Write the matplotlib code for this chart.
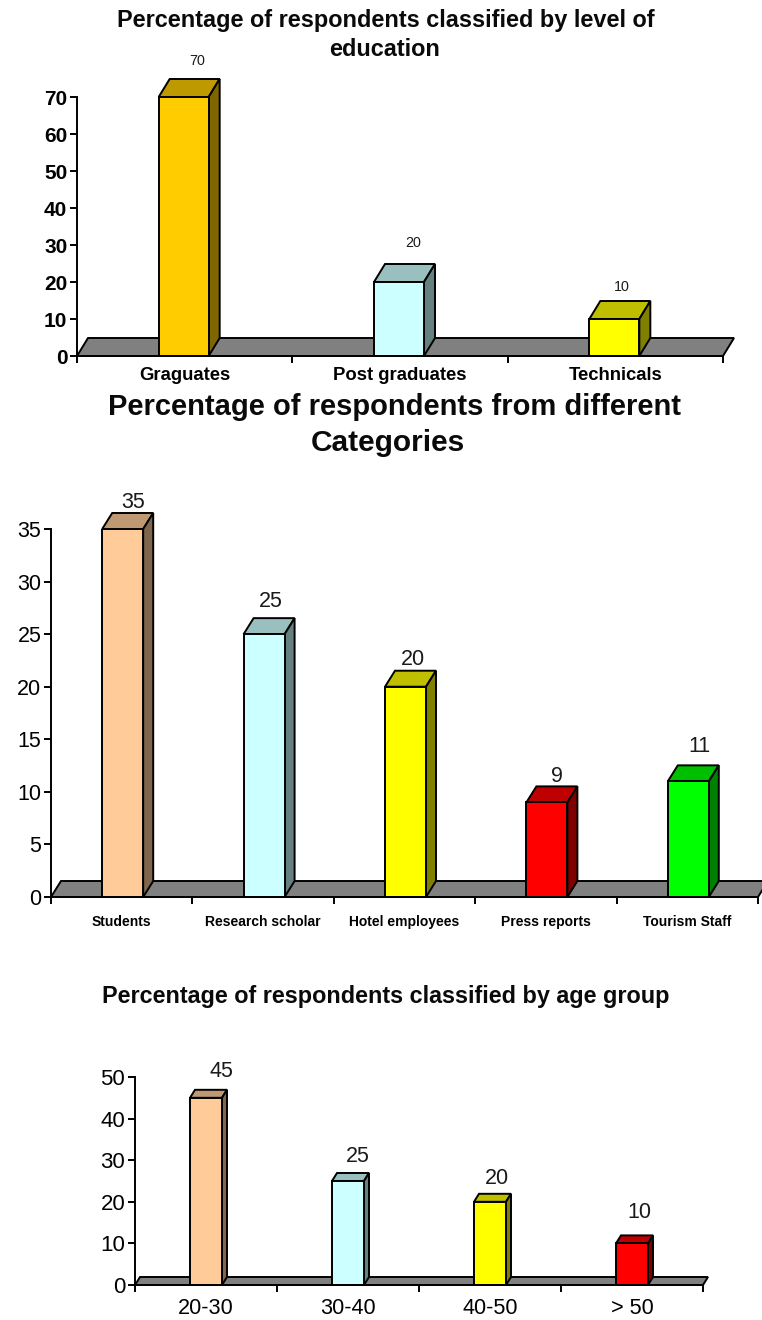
import matplotlib
matplotlib.use("Agg")
import matplotlib.pyplot as plt
from matplotlib.colors import to_rgb
from matplotlib.patches import Polygon

plt.rcParams['font.family'] = ['Liberation Sans', 'DejaVu Sans']

W, H = 762, 1320

# =============================================================================
# Data
# =============================================================================
edu_labels = ["Graguates", "Post graduates", "Technicals"]
edu_values = [70, 20, 10]
edu_colors = ["#FFCC00", "#CCFFFF", "#FFFF00"]

cat_labels = ["Students", "Research scholar", "Hotel employees", "Press reports", "Tourism Staff"]
cat_values = [35, 25, 20, 9, 11]
cat_colors = ["#FFCC99", "#CCFFFF", "#FFFF00", "#FF0000", "#00FF00"]

age_labels = ["20-30", "30-40", "40-50", "> 50"]
age_values = [45, 25, 20, 10]
age_colors = ["#FFCC99", "#CCFFFF", "#FFFF00", "#FF0000"]


def shade(color, f):
    return tuple(c * f for c in to_rgb(color))


def px_text(fig, x, y, s, **kw):
    fig.text(x / W, 1 - y / H, s, ha='center', va='center', color='#0a0a0a', **kw)


def bar3d(fig, rect, labels, values, colors, ymax, yticks, depth, bar_px, shift,
          ytick_font, xtick_font, val_font, val_off, bold_y=False, xlab_pad=8):
    left, right, top, bottom = rect
    ax = fig.add_axes([left / W, 1 - bottom / H, (right - left) / W, (bottom - top) / H])
    n = len(labels)
    ax.set_xlim(-0.5, n - 0.5)
    ax.set_ylim(0, ymax)
    ax.patch.set_alpha(0)

    # pixel depth -> data units
    px_x = n / (right - left)
    dx = depth[0] * px_x
    dy = depth[1] * ymax / (bottom - top)
    width = bar_px * px_x
    lw = 1.4

    # floor
    ax.add_patch(Polygon([(-0.5, 0), (n - 0.5, 0), (n - 0.5 + dx, dy), (-0.5 + dx, dy)],
                         closed=True, fc='#808080', ec='black', lw=lw, clip_on=False, zorder=1))

    xs = [i + shift * px_x for i in range(n)]
    bars = ax.bar(xs, values, width=width, color=colors, edgecolor='black',
                  linewidth=lw, zorder=3)
    for i, (b, v, c) in enumerate(zip(bars, values, colors)):
        x0, x1 = b.get_x(), b.get_x() + b.get_width()
        ax.add_patch(Polygon([(x0, v), (x1, v), (x1 + dx, v + dy), (x0 + dx, v + dy)],
                             closed=True, fc=shade(c, 0.75), ec='black', lw=lw,
                             clip_on=False, zorder=2))
        ax.add_patch(Polygon([(x1, 0), (x1 + dx, dy), (x1 + dx, v + dy), (x1, v)],
                             closed=True, fc=shade(c, 0.5), ec='black', lw=lw,
                             clip_on=False, zorder=2))
        ax.annotate(str(v), (i, v), xytext=val_off[i], textcoords='offset pixels',
                    ha='center', va='center', fontsize=val_font, color='#1a1a1a',
                    annotation_clip=False)

    for s in ('top', 'right'):
        ax.spines[s].set_visible(False)
    for s in ('left', 'bottom'):
        ax.spines[s].set_linewidth(lw)
        ax.spines[s].set_zorder(4)

    ax.set_yticks(yticks)
    ax.set_yticklabels([str(t) for t in yticks], fontsize=ytick_font,
                       fontweight='bold' if bold_y else 'normal')
    ax.tick_params(axis='y', length=5, width=lw, pad=2)

    # ticks sit between the categories, labels under the bars
    ax.set_xticks(range(n))
    ax.set_xticklabels(labels, **xtick_font)
    ax.set_xticks([i - 0.5 for i in range(n + 1)], minor=True)
    ax.tick_params(axis='x', which='major', length=0, pad=xlab_pad)
    ax.tick_params(axis='x', which='minor', length=5, width=lw)
    return ax


fig = plt.figure(figsize=(W / 100, H / 100), dpi=100)

# =============================================================================
# Chart 1 - education
# =============================================================================
px_text(fig, 386, 21, "Percentage of respondents classified by level of",
        fontsize=16.9, fontweight='bold')
px_text(fig, 385, 50, "education", fontsize=16.9, fontweight='bold')
bar3d(fig, (77, 723, 97, 356), edu_labels, edu_values, edu_colors, 70,
      [0, 10, 20, 30, 40, 50, 60, 70], (11, 18), 50, -1,
      15, dict(fontsize=13.3, fontweight='bold'), 10.3,
      [(13, 36), (13, 39), (6, 32)], bold_y=True, xlab_pad=8)

# =============================================================================
# Chart 2 - categories
# =============================================================================
px_text(fig, 394, 407, "Percentage of respondents from different",
        fontsize=21, fontweight='bold')
px_text(fig, 388, 443, "Categories", fontsize=21.5, fontweight='bold')
bar3d(fig, (51, 758, 529, 897), cat_labels, cat_values, cat_colors, 35,
      [0, 5, 10, 15, 20, 25, 30, 35], (10, 16), 41, 1,
      15.5, dict(fontsize=10, fontweight='bold'), 15.5,
      [(11, 26), (8, 33), (8, 27), (11, 26), (12, 35)], xlab_pad=13)

# =============================================================================
# Chart 3 - age group
# =============================================================================
px_text(fig, 386, 997, "Percentage of respondents classified by age group",
        fontsize=16.8, fontweight='bold')
bar3d(fig, (135, 703, 1077, 1285), age_labels, age_values, age_colors, 50,
      [0, 10, 20, 30, 40, 50], (5, 8), 32, 0,
      16, dict(fontsize=15.6), 15.5,
      [(15, 26), (10, 25), (7, 23), (7, 31)], xlab_pad=9.5)

fig.savefig("out.png", dpi=100)
